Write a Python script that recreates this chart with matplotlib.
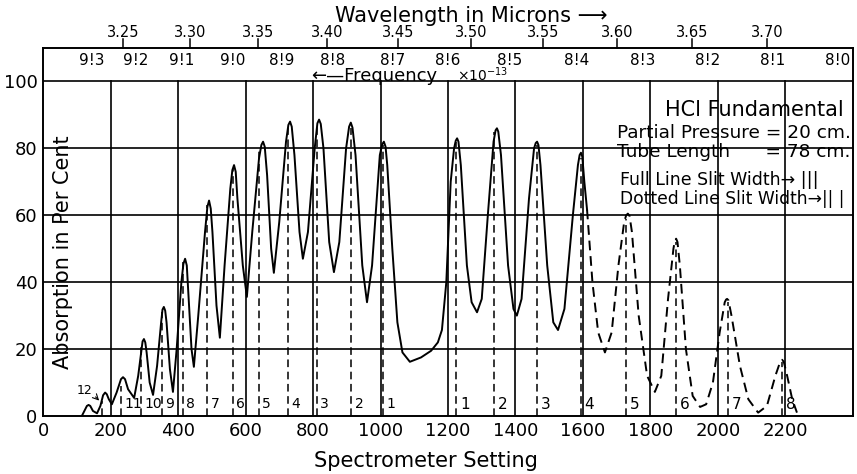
import matplotlib
matplotlib.use("Agg")
import matplotlib.pyplot as plt

plt.rcParams['font.family'] = ['DejaVu Sans']

# ---- data ----
solid_x = [115, 125, 130, 135, 140, 148, 160, 170, 178, 184, 189, 195, 204, 218, 231, 237, 243, 252, 270,
           282, 292, 295, 299, 303, 307, 316, 326,
           338, 350, 354, 358, 362, 366, 376, 385,
           396, 410, 416, 421, 426, 430, 440, 447,
           460, 480, 487, 492, 497, 502, 514, 524,
           538, 555, 561, 566, 571, 576, 592, 604,
           620, 640, 647, 652, 657, 664, 676, 684,
           700, 720, 727, 732, 737, 745, 760, 770,
           785, 805, 813, 818, 823, 831, 848, 862,
           878, 898, 907, 912, 917, 926, 946, 960,
           975, 998, 1005, 1010, 1015, 1020, 1035, 1050,
           1065, 1087, 1120, 1150, 1170, 1182, 1195, 1208, 1218, 1223, 1227, 1231, 1238, 1256, 1270, 1286,
           1300, 1318, 1335, 1341, 1345, 1349, 1357, 1378, 1394, 1404,
           1418, 1440, 1455, 1460, 1464, 1468, 1474, 1494, 1512, 1526,
           1545, 1570, 1585, 1590, 1594, 1598, 1604, 1612]
solid_y = [0, 2, 3, 3.3, 3, 1.5, 0.8, 3, 6.2, 7, 6.5, 5, 3.5, 7, 11, 11.6, 11, 8, 5.4,
           12, 20, 22.3, 23, 22, 19, 10, 6.3,
           15, 28, 31.8, 32.6, 31.5, 28, 14, 7.2,
           20, 40, 45.5, 47, 45, 38, 20, 14.7,
           30, 55, 62.5, 64.4, 62, 55, 33, 23.4,
           45, 68, 73.5, 75, 73, 65, 45, 35.6,
           55, 77, 81, 82, 80.5, 72, 50, 42.8,
           58, 82, 87, 88, 86.5, 78, 55, 47,
           55, 80, 87.5, 88.6, 87.3, 80, 52, 43,
           52, 80, 86.5, 87.7, 86.2, 78, 45, 34,
           45, 78, 81.2, 82, 80.5, 75, 50, 28,
           19, 16.2, 17.5, 19.5, 22, 25.7, 40, 70, 80, 82.3, 83, 82, 75, 45, 34, 31,
           35, 60, 82, 85.4, 86, 85, 78, 45, 32, 30,
           35, 65, 80, 81.6, 82, 81, 75, 45, 28, 25.7,
           32, 60, 75, 78, 78.7, 77.5, 70, 61.7]

dashed_x = [1612, 1628, 1645, 1665, 1685, 1705, 1722, 1728, 1733, 1738, 1745, 1765, 1790, 1813, 1832,
            1852, 1868, 1872, 1876, 1880, 1887, 1905, 1925, 1947, 1965, 1985, 2005, 2020, 2024, 2027,
            2031, 2040, 2065, 2090, 2119, 2145, 2170, 2185, 2190, 2195, 2205, 2220, 2234]
dashed_y = [61.7, 40, 25, 19, 25, 45, 58, 60, 60.5, 59.8, 55, 30, 12, 7.2, 12,
            35, 50, 52.3, 53, 52, 45, 20, 6, 2.7, 3.5, 10, 25, 34, 34.8, 35,
            34.6, 30, 15, 5, 1, 3, 12, 16.4, 16.8, 16.2, 12, 5, 1]

p_pos = [175, 231, 290, 353, 415, 486, 563, 640, 726, 812, 913, 1007]
p_top = [4.5, 9, 21, 31, 46, 63, 74, 80, 86, 87, 86, 81]
p_labels = ["12", "11", "10", "9", "8", "7", "6", "5", "4", "3", "2", "1"]

r_pos = [1224, 1337, 1463, 1593, 1727, 1876, 2029, 2189]
r_top = [82, 85, 81, 77, 59, 52, 34, 16]
r_labels = ["1", "2", "3", "4", "5", "6", "7", "8"]

wl_pos = [237, 436, 637, 841, 1052, 1268, 1481, 1701, 1923, 2145]
wl_labels = ["3.25", "3.30", "3.35", "3.40", "3.45", "3.50", "3.55", "3.60", "3.65", "3.70"]

fr_pos = [145, 276, 412, 563, 708, 859, 1037, 1200, 1384, 1582, 1778, 1970, 2163, 2356]
fr_labels = ["9!3", "9!2", "9!1", "9!0", "8!9", "8!8", "8!7", "8!6", "8!5", "8!4", "8!3", "8!2", "8!1", "8!0"]

x_ticks = [0, 200, 400, 600, 800, 1000, 1200, 1400, 1600, 1800, 2000, 2200]
y_ticks = [0, 20, 40, 60, 80, 100]

# ---- figure ----
fig = plt.figure(figsize=(8.57, 4.74), dpi=100)
ax = fig.add_axes([0.0502, 0.1224, 0.9451, 0.7763])
ax.set_xlim(0, 2400)
ax.set_ylim(0, 110)

for s in ax.spines.values():
    s.set_linewidth(1.4)
    s.set_color('black')

# grid
for yv in y_ticks[1:]:
    ax.axhline(yv, color='black', lw=1.2, zorder=1)
for xv in x_ticks[1:]:
    ax.plot([xv, xv], [0, 100], color='black', lw=1.2, zorder=1)

# curve
ax.plot(solid_x, solid_y, color='black', lw=1.4, zorder=3, solid_joinstyle='round')
ax.plot(dashed_x, dashed_y, color='black', lw=1.4, ls=(0, (5, 3)), zorder=3)

# line positions
for xp, top, lab in zip(p_pos, p_top, p_labels):
    ax.plot([xp, xp], [0, top], color='black', lw=1.1, ls=(0, (5, 3)), zorder=2)
    if lab != "12":
        ax.text(xp + 10, 3.5, lab, fontsize=10, ha='left', va='center')
ax.text(124, 7.5, "12", fontsize=9, ha='center', va='center')
ax.annotate("", xy=(172, 4.0), xytext=(150, 6.3),
            arrowprops=dict(arrowstyle='->', lw=0.8, color='black'))
for xp, top, lab in zip(r_pos, r_top, r_labels):
    ax.plot([xp, xp], [0, top], color='black', lw=1.1, ls=(0, (5, 3)), zorder=2)
    ax.text(xp + 12, 3.5, lab, fontsize=11, ha='left', va='center')

# ticks
ax.set_xticks(x_ticks)
ax.set_xticklabels([str(v) for v in x_ticks], fontsize=13)
ax.set_yticks(y_ticks)
ax.set_yticklabels([str(v) for v in y_ticks], fontsize=13)
ax.tick_params(length=0, pad=4)

# top wavelength scale
for xp, lab in zip(wl_pos, wl_labels):
    ax.plot([xp, xp], [110, 112.6], color='black', lw=1.1, clip_on=False)
    ax.text(xp, 114.6, lab, fontsize=10.5, ha='center', va='center', clip_on=False)
ax.text(1270, 119.6, "Wavelength in Microns \u27f6", fontsize=15, ha='center', va='center', clip_on=False)

# frequency labels in band
for xp, lab in zip(fr_pos, fr_labels):
    ax.text(xp, 106.3, lab, fontsize=11, ha='center', va='center')
ax.text(795, 101.6, "\u2190\u2014Frequency", fontsize=13, ha='left', va='center')
ax.text(1228, 102.0, r"$\times10^{-13}$", fontsize=10, ha='left', va='center')

# axis labels
ax.text(1135, -13.5, "Spectrometer Setting", fontsize=15, ha='center', va='center', clip_on=False)
ax.text(58, 49, "Absorption in Per Cent", fontsize=15, rotation=90, ha='center', va='center')

# legend block
ax.text(1843, 91.5, "HCl Fundamental", fontsize=15, ha='left', va='center')
ax.text(1701, 84.6, "Partial Pressure = 20 cm.", fontsize=13.3, ha='left', va='center')
ax.text(1701, 78.9, "Tube Length      = 78 cm.", fontsize=13.3, ha='left', va='center')
ax.text(1710, 70.6, "Full Line Slit Width\u2192 |||", fontsize=12.5, ha='left', va='center')
ax.text(1710, 64.9, "Dotted Line Slit Width\u2192|| |", fontsize=12.3, ha='left', va='center')

fig.savefig("out.png", dpi=100)
